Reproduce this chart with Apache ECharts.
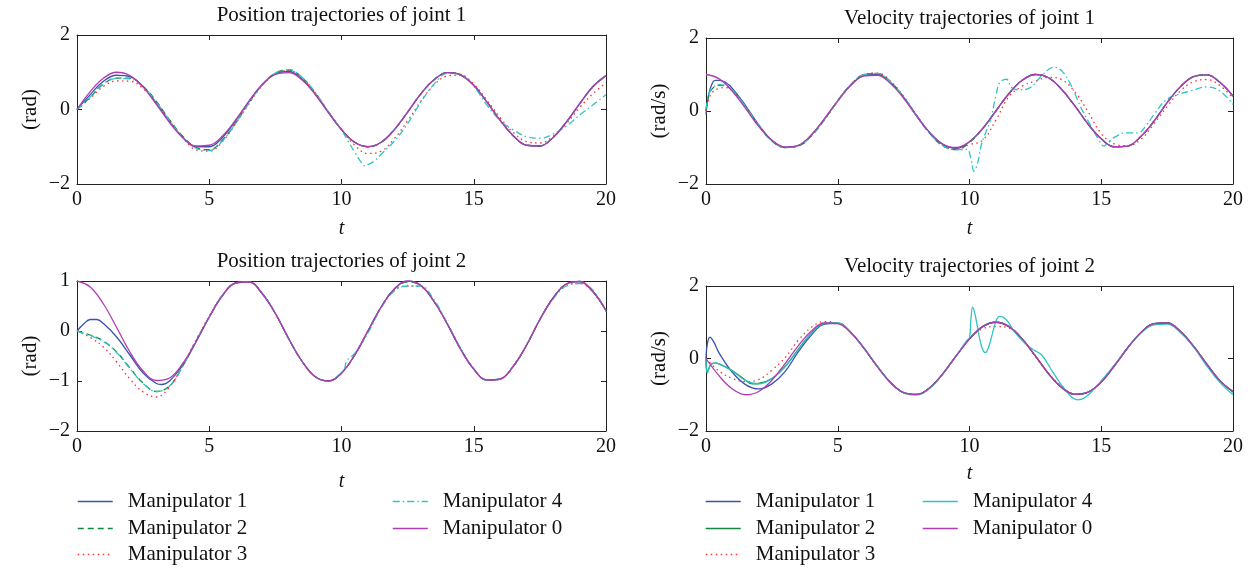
<!DOCTYPE html>
<html><head><meta charset="utf-8">
<script src="https://cdn.jsdelivr.net/npm/echarts@6/dist/echarts.min.js"></script>
<style>html,body{margin:0;padding:0;background:#fff}#c{width:1256px;height:571px}</style>
</head><body><div id="c"></div>
<script>
// ---------- DATA ----------
const T = [0,0.5,1,1.5,2,2.5,3,3.5,4,4.5,5,5.5,6,6.5,7,7.5,8,8.5,9,9.5,10,10.5,11,11.5,12,12.5,13,13.5,14,14.5,15,15.5,16,16.5,17,17.5,18,18.5,19,19.5,20];
const names = ['Manipulator 1','Manipulator 2','Manipulator 3','Manipulator 4','Manipulator 0'];
const titles = ['Position trajectories of joint 1','Velocity trajectories of joint 1','Position trajectories of joint 2','Velocity trajectories of joint 2'];
const yNames = ['(rad)','(rad/s)','(rad)','(rad/s)'];
const xTicks = [0,5,10,15,20];

// Position joint 1
const p1_m0 = [0,0.48,0.84,1.00,0.91,0.60,0.14,-0.35,-0.76,-0.98,-0.96,-0.71,-0.28,0.22,0.66,0.94,0.99,0.80,0.41,-0.08,-0.54,-0.88,-1.00,-0.88,-0.54,-0.07,0.42,0.80,0.99,0.93,0.65,0.20,-0.29,-0.71,-0.96,-0.98,-0.75,-0.34,0.15,0.61,0.91];
const p1_m1 = [0,0.40,0.76,0.92,0.88,0.62,0.17,-0.32,-0.75,-1.00,-1.00,-0.75,-0.30,0.22,0.67,0.96,1.02,0.82,0.42,-0.08,-0.54,-0.88,-1.00,-0.88,-0.54,-0.07,0.42,0.80,0.99,0.93,0.65,0.20,-0.29,-0.71,-0.96,-0.98,-0.75,-0.34,0.15,0.61,0.91];
const p1_m2 = [0,0.33,0.68,0.84,0.84,0.62,0.22,-0.28,-0.72,-1.02,-1.08,-0.82,-0.36,0.18,0.66,0.98,1.06,0.86,0.45,-0.06,-0.54,-0.88,-1.00,-0.88,-0.54,-0.07,0.42,0.80,0.99,0.93,0.65,0.20,-0.29,-0.71,-0.96,-0.98,-0.75,-0.34,0.15,0.61,0.91];
const p1_m3 = [0,0.30,0.62,0.77,0.76,0.56,0.18,-0.30,-0.76,-1.08,-1.12,-0.86,-0.38,0.15,0.64,0.96,1.05,0.86,0.46,-0.05,-0.54,-0.96,-1.18,-1.12,-0.78,-0.30,0.22,0.66,0.90,0.92,0.68,0.25,-0.22,-0.62,-0.86,-0.90,-0.72,-0.38,0.05,0.42,0.72];
const p1_m4 = [0,0.34,0.70,0.83,0.82,0.60,0.20,-0.30,-0.74,-1.04,-1.10,-0.84,-0.37,0.17,0.66,0.98,1.07,0.87,0.46,-0.06,-0.55,-1.15,-1.48,-1.20,-0.85,-0.38,0.20,0.68,0.97,0.95,0.62,0.12,-0.30,-0.55,-0.73,-0.77,-0.66,-0.45,-0.15,0.12,0.40];
const p1_m4_extra = [[10.25,-0.85],[10.75,-1.42],[10.9,-1.52],[11.25,-1.38]];

// Velocity joint 1
const v1_m0 = [1.00,0.88,0.54,0.07,-0.42,-0.80,-0.99,-0.94,-0.65,-0.21,0.28,0.71,0.96,0.98,0.75,0.35,-0.15,-0.60,-0.91,-1.00,-0.84,-0.48,0.00,0.48,0.84,1.00,0.91,0.59,0.14,-0.36,-0.76,-0.98,-0.96,-0.70,-0.28,0.23,0.66,0.94,0.99,0.79,0.41];
const v1_m1 = [-0.10,0.84,0.62,0.15,-0.38,-0.80,-0.99,-0.95,-0.66,-0.21,0.28,0.71,0.97,1.00,0.78,0.38,-0.13,-0.60,-0.92,-1.02,-0.84,-0.48,0.00,0.48,0.84,1.00,0.91,0.59,0.14,-0.36,-0.76,-0.98,-0.96,-0.70,-0.28,0.23,0.66,0.94,0.99,0.79,0.41];
const v1_m1_extra = [[0.1,0.45],[0.25,0.78],[0.35,0.84],[0.75,0.78]];
const v1_m2 = [0.00,0.70,0.56,0.12,-0.40,-0.82,-1.00,-0.96,-0.68,-0.23,0.28,0.73,1.00,1.03,0.80,0.38,-0.14,-0.62,-0.96,-1.06,-0.86,-0.48,0.00,0.48,0.84,1.00,0.91,0.59,0.14,-0.36,-0.76,-0.98,-0.96,-0.70,-0.28,0.23,0.66,0.94,0.99,0.79,0.41];
const v1_m2_extra = [[0.1,0.42],[0.25,0.62],[0.75,0.68]];
const v1_m3 = [0.00,0.62,0.55,0.12,-0.38,-0.80,-1.00,-0.96,-0.68,-0.24,0.26,0.71,1.00,1.04,0.82,0.40,-0.12,-0.60,-0.94,-1.05,-0.92,-0.80,-0.25,0.40,0.68,0.82,0.92,0.86,0.52,-0.02,-0.62,-0.90,-0.95,-0.78,-0.35,0.12,0.55,0.80,0.86,0.70,0.35];
const v1_m3_extra = [[0.1,0.30],[0.25,0.52],[0.75,0.64]];
const v1_m4 = [[0,0.05],[0.1,0.45],[0.25,0.65],[0.5,0.72],[0.75,0.70],[1,0.57],[1.5,0.12],[2,-0.40],[2.5,-0.82],[3,-1.00],[3.5,-0.96],[4,-0.68],[4.5,-0.23],[5,0.28],[5.5,0.73],[6,1.00],[6.5,1.03],[7,0.80],[7.5,0.38],[8,-0.14],[8.5,-0.62],[9,-0.96],[9.5,-1.06],[9.9,-1.05],[10.05,-1.30],[10.17,-1.65],[10.3,-1.45],[10.47,-0.87],[10.77,-0.30],[11.0,0.40],[11.15,0.78],[11.4,0.87],[11.6,0.64],[11.9,0.58],[12.3,0.64],[12.75,0.97],[13.2,1.20],[13.5,1.10],[13.8,0.78],[14.26,0.05],[14.6,-0.40],[14.9,-0.78],[15.1,-0.96],[15.3,-0.83],[15.55,-0.70],[15.93,-0.60],[16.4,-0.60],[16.7,-0.40],[17.0,-0.10],[17.45,0.30],[17.9,0.45],[18.4,0.55],[19,0.66],[19.5,0.55],[20,0.18]];

// Position joint 2
const p2_m0 = [1.00,0.88,0.54,0.07,-0.42,-0.80,-0.99,-0.94,-0.65,-0.21,0.28,0.71,0.96,0.98,0.75,0.35,-0.15,-0.60,-0.91,-1.00,-0.84,-0.48,0.00,0.48,0.84,1.00,0.91,0.59,0.14,-0.36,-0.76,-0.98,-0.96,-0.70,-0.28,0.23,0.66,0.94,0.99,0.79,0.41];
const p2_m1 = [0,0.23,0.15,-0.12,-0.48,-0.84,-1.05,-1.00,-0.68,-0.22,0.28,0.71,0.96,0.98,0.75,0.35,-0.15,-0.60,-0.91,-1.00,-0.84,-0.48,0.00,0.48,0.84,1.00,0.91,0.59,0.14,-0.36,-0.76,-0.98,-0.96,-0.70,-0.28,0.23,0.66,0.94,0.99,0.79,0.41];
const p2_m1_extra = [[0.25,0.14],[0.75,0.23],[3.2,-1.07]];
const p2_m2 = [0,-0.08,-0.20,-0.42,-0.74,-1.04,-1.21,-1.10,-0.70,-0.20,0.28,0.71,0.96,0.98,0.75,0.35,-0.15,-0.60,-0.91,-1.00,-0.84,-0.48,0.00,0.48,0.84,0.98,0.91,0.59,0.14,-0.36,-0.76,-0.98,-0.96,-0.70,-0.28,0.23,0.66,0.94,0.99,0.79,0.41];
const p2_m3 = [0,-0.13,-0.32,-0.62,-0.96,-1.22,-1.32,-1.12,-0.68,-0.18,0.30,0.72,0.96,0.98,0.75,0.35,-0.15,-0.60,-0.91,-1.00,-0.84,-0.48,0.00,0.48,0.82,0.90,0.88,0.58,0.14,-0.36,-0.76,-0.98,-0.96,-0.70,-0.28,0.23,0.66,0.92,0.95,0.79,0.41];
const p2_m4 = [0,-0.09,-0.21,-0.43,-0.75,-1.05,-1.21,-1.10,-0.70,-0.20,0.28,0.71,0.96,0.98,0.75,0.35,-0.15,-0.60,-0.91,-1.00,-0.84,-0.45,-0.04,0.46,0.80,0.90,0.90,0.62,0.16,-0.34,-0.76,-0.98,-0.96,-0.70,-0.28,0.23,0.64,0.90,0.95,0.82,0.38];
const p2_m4_extra = [[10.1,-0.78],[10.2,-0.60]];

// Velocity joint 2
const v2_m0 = [0,-0.48,-0.84,-1.00,-0.91,-0.60,-0.14,0.35,0.76,0.98,0.96,0.71,0.28,-0.22,-0.66,-0.94,-0.99,-0.80,-0.41,0.08,0.54,0.88,1.00,0.88,0.54,0.07,-0.42,-0.80,-0.99,-0.93,-0.65,-0.20,0.29,0.71,0.96,0.98,0.75,0.34,-0.15,-0.61,-0.91];
const v2_m1 = [0,0.15,-0.38,-0.72,-0.84,-0.70,-0.36,0.18,0.65,0.95,0.97,0.71,0.28,-0.22,-0.66,-0.94,-0.99,-0.80,-0.41,0.08,0.54,0.88,1.00,0.88,0.54,0.07,-0.42,-0.80,-0.99,-0.93,-0.65,-0.20,0.29,0.71,0.96,0.98,0.75,0.34,-0.15,-0.61,-0.91];
const v2_m1_extra = [[0.05,0.40],[0.15,0.59],[0.3,0.45]];
const v2_m2 = [0,-0.15,-0.34,-0.60,-0.69,-0.55,-0.22,0.25,0.70,0.97,0.98,0.72,0.28,-0.22,-0.66,-0.94,-0.99,-0.80,-0.41,0.08,0.54,0.88,1.00,0.88,0.54,0.07,-0.42,-0.80,-0.99,-0.93,-0.65,-0.20,0.29,0.71,0.96,0.98,0.75,0.34,-0.15,-0.61,-0.93];
const v2_m2_extra = [[0.05,-0.36],[0.2,-0.15],[0.35,-0.13],[1.75,-0.70]];
const v2_m3 = [0,-0.35,-0.55,-0.64,-0.58,-0.32,0.02,0.50,0.86,1.02,0.97,0.72,0.28,-0.22,-0.66,-0.94,-0.99,-0.80,-0.41,0.08,0.55,0.82,0.88,0.84,0.54,0.05,-0.42,-0.76,-0.98,-0.93,-0.65,-0.20,0.29,0.71,0.96,0.98,0.75,0.34,-0.15,-0.61,-0.91];
const v2_m4 = [[0,0],[0.05,-0.40],[0.2,-0.16],[0.4,-0.13],[0.5,-0.15],[1,-0.34],[1.5,-0.61],[2,-0.70],[2.5,-0.56],[3,-0.23],[3.5,0.24],[4,0.69],[4.5,0.97],[5,0.98],[5.5,0.72],[6,0.28],[6.5,-0.22],[7,-0.66],[7.5,-0.95],[8,-1.01],[8.5,-0.82],[9,-0.42],[9.5,0.07],[9.9,0.50],[10.0,0.56],[10.05,1.05],[10.12,1.42],[10.2,1.25],[10.3,0.88],[10.45,0.35],[10.6,0.16],[10.77,0.42],[11.0,1.02],[11.15,1.16],[11.4,1.07],[11.7,0.74],[12.1,0.42],[12.45,0.23],[12.75,0.09],[13.2,-0.42],[13.65,-0.88],[14.1,-1.14],[14.4,-1.07],[14.9,-0.70],[15.5,-0.18],[16,0.30],[16.5,0.70],[17,0.93],[17.5,0.95],[18,0.72],[18.5,0.32],[19,-0.20],[19.5,-0.66],[20,-1.00]];

// ---------- BUILD ----------
function pts(vals, extra){
  const p = T.map((t,i)=>[t, vals[i]]);
  if (extra) p.push(...extra);
  p.sort((a,b)=>a[0]-b[0]);
  return p;
}
const COL = ['#3a52b0','#13873f','#ff3030','#2ec4c4','#b03cb3'];
const DASH = [6,4], DOT = [1.5,3.5], DASHDOT = [7,3,1.5,3];
const FONT = 'Liberation Serif';

const plotData = [
  [pts(p1_m1), pts(p1_m2), pts(p1_m3), pts(p1_m4,p1_m4_extra), pts(p1_m0)],
  [pts(v1_m1,v1_m1_extra), pts(v1_m2,v1_m2_extra), pts(v1_m3,v1_m3_extra), v1_m4, pts(v1_m0)],
  [pts(p2_m1,p2_m1_extra), pts(p2_m2), pts(p2_m3), pts(p2_m4,p2_m4_extra), pts(p2_m0)],
  [pts(v2_m1,v2_m1_extra), pts(v2_m2,v2_m2_extra), pts(v2_m3), v2_m4, pts(v2_m0)]
];
const types = [
  ['solid',DASH,DOT,DASHDOT,'solid'],
  ['solid',DASH,DOT,DASHDOT,'solid'],
  ['solid',DASH,DOT,DASHDOT,'solid'],
  ['solid','solid',DOT,'solid','solid']
];
const grids = [
  {left:77, top:35, width:529, height:149},
  {left:706, top:38, width:527, height:146},
  {left:77, top:281, width:529, height:150},
  {left:706, top:286, width:527, height:145}
];
const yRange = [[-2,2,2],[-2,2,2],[-2,1,1],[-2,2,2]];
const xNameGap = [35,35,41,33];
const yNameGap = [36,36,36,36];

const lineC = '#222';
const axLine = {show:true, onZero:false, lineStyle:{color:lineC, width:1}};
const axTick = {show:true, inside:true, length:5, lineStyle:{color:lineC}};
const xAxis = [], yAxis = [], series = [], title = [];
grids.forEach((g,i)=>{
  xAxis.push({type:'value', gridIndex:i, min:0, max:20, interval:5, position:'bottom',
    axisLine:axLine, axisTick:axTick, splitLine:{show:false},
    name:'t', nameLocation:'middle', nameGap:xNameGap[i],
    nameTextStyle:{fontFamily:FONT, fontStyle:'italic', fontSize:20, color:'#111'},
    axisLabel:{show:true, margin:6, fontFamily:FONT, fontSize:20, color:'#111'}});
  yAxis.push({type:'value', gridIndex:i, min:yRange[i][0], max:yRange[i][1], interval:yRange[i][2], position:'left',
    axisLine:axLine, axisTick:axTick, splitLine:{show:false},
    name:yNames[i], nameLocation:'middle', nameGap:yNameGap[i],
    nameTextStyle:{fontFamily:FONT, fontSize:21, color:'#111'},
    axisLabel:{show:true, margin:7, fontFamily:FONT, fontSize:20, color:'#111', formatter:v=>String(v).replace('-','\u2212')}});
  title.push({text:titles[i], left:g.left + g.width/2, top:g.top-30, textAlign:'center', padding:0,
    textStyle:{fontFamily:FONT, fontSize:21, fontWeight:'normal', color:'#111'}});
});
grids.forEach((g,i)=>{
  xAxis.push({type:'value', gridIndex:i, min:0, max:20, interval:5, position:'top',
    axisLine:axLine, axisTick:axTick, splitLine:{show:false}, axisLabel:{show:false}});
  yAxis.push({type:'value', gridIndex:i, min:yRange[i][0], max:yRange[i][1], interval:yRange[i][2], position:'right',
    axisLine:axLine, axisTick:axTick, splitLine:{show:false}, axisLabel:{show:false}});
});
plotData.forEach((arr,i)=>{
  arr.forEach((d,k)=>{
    series.push({type:'line', name:names[k], xAxisIndex:i, yAxisIndex:i, data:d,
      symbol:'none', smooth:0.4, silent:true,
      lineStyle:{color:COL[k], width:1.3, type:types[i][k]}, itemStyle:{color:COL[k]}});
  });
});

// legend: one component per entry, placed in two columns per side
const legendRows = [500, 527, 553];
const legendCols = {left:[77,392], right:[705,922]};
const legendSlots = [ // [seriesIndex, column, row]
  [0,0,0],[1,0,1],[2,0,2],[3,1,0],[4,1,1]
];
const legend = [];
[['left', types[0]], ['right', types[3]]].forEach(([side, styleRow])=>{
  legendSlots.forEach(([k,c,r])=>{
    legend.push({orient:'horizontal', left:legendCols[side][c], top:legendRows[r]-9,
      itemWidth:35, itemHeight:14, padding:0, selectedMode:false, itemStyle:{opacity:0},
      textStyle:{fontFamily:FONT, fontSize:21, color:'#111', padding:[0,0,0,10]},
      data:[{name:names[k], lineStyle:{color:COL[k], width:1.5, type:styleRow[k], opacity:1}}]});
  });
});

const chart = echarts.init(document.getElementById('c'), null, {renderer:'canvas'});
chart.setOption({animation:false, backgroundColor:'#fff', title, legend,
  grid: grids.map(g=>Object.assign({containLabel:false}, g)), xAxis, yAxis, series});
</script>
</body></html>
